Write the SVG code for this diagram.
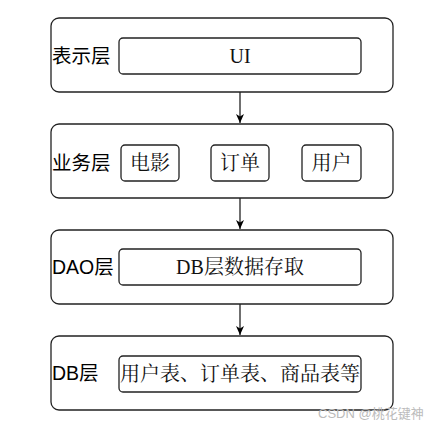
<svg xmlns="http://www.w3.org/2000/svg" width="447" height="429" viewBox="0 0 447 429">
<style>
.outer{fill:#fff;stroke:#222;stroke-width:1.3}
.inner{fill:#fff;stroke:#222;stroke-width:1.3}
.lbl{font-family:"Liberation Sans","Noto Sans CJK SC",sans-serif;font-size:19.5px;fill:#000}
.txt{font-family:"Liberation Serif","Noto Serif CJK SC","Noto Sans CJK SC",serif;font-size:20px;fill:#111}
.conn{stroke:#222;stroke-width:1.3;fill:none}
</style>
<defs>
<marker id="arr" markerWidth="10" markerHeight="10" refX="9" refY="5" orient="auto" markerUnits="userSpaceOnUse">
<path d="M0,1 L9,5 L0,9 L2.5,5 Z" fill="#000"/>
</marker>
</defs>
<rect width="447" height="429" fill="#fff"/>
<g id="n-presentation">
<rect class="outer" x="51" y="18" width="342" height="74" rx="8"/>
<text class="lbl" x="52" y="63">表示层</text>
<rect class="inner" x="119" y="38" width="242" height="36" rx="4"/>
<text class="txt" x="240" y="63" text-anchor="middle">UI</text>
</g>
<g id="n-business">
<rect class="outer" x="51" y="124" width="342" height="74" rx="8"/>
<text class="lbl" x="52" y="170">业务层</text>
<rect class="inner" x="121" y="145" width="58" height="36" rx="4"/>
<text class="txt" x="150" y="170" text-anchor="middle">电影</text>
<rect class="inner" x="211" y="145" width="58" height="36" rx="4"/>
<text class="txt" x="240" y="170" text-anchor="middle">订单</text>
<rect class="inner" x="302" y="145" width="59" height="36" rx="4"/>
<text class="txt" x="331.5" y="170" text-anchor="middle">用户</text>
</g>
<g id="n-dao">
<rect class="outer" x="51" y="230" width="342" height="74" rx="8"/>
<text class="lbl" x="52" y="274">DAO层</text>
<rect class="inner" x="119" y="249" width="242" height="36" rx="4"/>
<text class="txt" x="240" y="274" text-anchor="middle">DB层数据存取</text>
</g>
<g id="n-db">
<rect class="outer" x="51" y="336" width="342" height="74" rx="8"/>
<text class="lbl" x="52" y="380">DB层</text>
<rect class="inner" x="119" y="356" width="242" height="36" rx="4"/>
<text class="txt" x="240" y="381" text-anchor="middle">用户表、订单表、商品表等</text>
</g>
<g id="connectors">
<line class="conn" x1="240" y1="92" x2="240" y2="123" marker-end="url(#arr)"/>
<line class="conn" x1="240" y1="198" x2="240" y2="229" marker-end="url(#arr)"/>
<line class="conn" x1="240" y1="304" x2="240" y2="335" marker-end="url(#arr)"/>
</g>
<text x="318" y="418" font-family="Liberation Sans,'Noto Sans CJK SC',sans-serif" font-size="13" fill="#bbb">CSDN @桃花键神</text>
</svg>
